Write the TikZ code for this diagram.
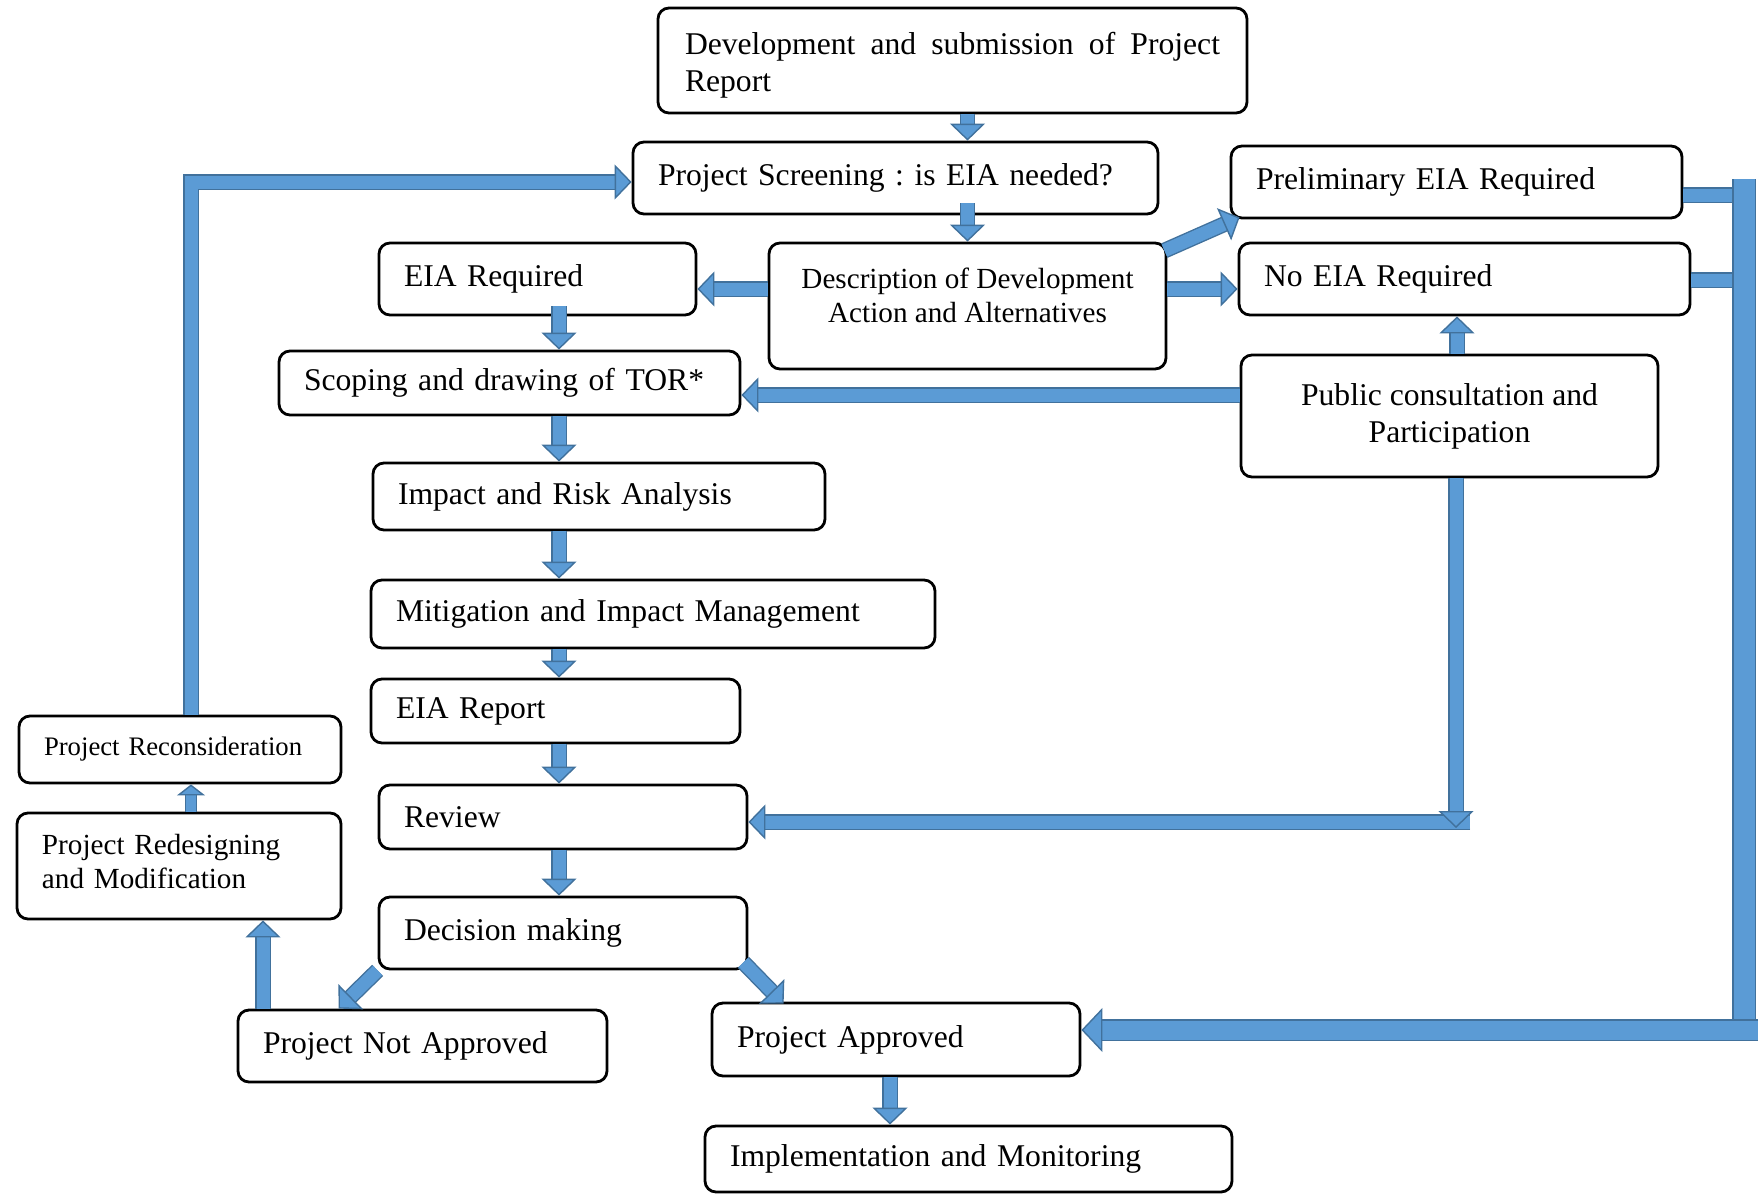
\documentclass[tikz,border=0pt]{standalone}
\usepackage{fontspec}
\setmainfont{Liberation Serif}
\usepackage{tikz}
\usetikzlibrary{arrows.meta,calc}
\frenchspacing

\definecolor{arrowfill}{HTML}{5B9BD5}
\definecolor{arrowline}{HTML}{41719C}
\newcommand{\stagefont}{\fontsize{9.0}{10.5}\selectfont}
\newcommand{\descfont}{\fontsize{8.3}{9.8}\selectfont}
\newcommand{\notefont}{\fontsize{7.6}{9.6}\selectfont}

\tikzset{
  stage/.style={draw, rounded corners=0.11cm, line width=0.8pt, inner xsep=0.25cm, inner ysep=0pt, align=left, font=\stagefont},
  flow/.style={draw=arrowline, line width=0.4pt, double=arrowfill, double distance=0.13cm,
    -{Triangle[width=0.35cm, length=0.17cm, fill=arrowfill, color=arrowline, line width=0.4pt]}},
  thinflow/.style={flow, double distance=0.1cm,
    -{Triangle[width=0.28cm, length=0.11cm, fill=arrowfill, color=arrowline, line width=0.4pt]}},
  wideflow/.style={flow, double distance=0.19cm,
    -{Triangle[width=0.44cm, length=0.21cm, fill=arrowfill, color=arrowline, line width=0.4pt]}},
  bar/.style={draw=arrowline, line width=0.4pt, double=arrowfill, double distance=0.13cm},
}

\begin{document}
\begin{tikzpicture}
    \useasboundingbox (0,0) rectangle (17.58,-11.95);
    % stages
    \node[stage, text width=5.35cm, inner xsep=0.27cm, minimum height=1.05cm, align=justify, text depth=9.5pt] (dev) at (9.525,-0.605) {Development and submission of Project Report};
    \node[stage, text width=4.75cm, minimum height=0.72cm] (screen) at (8.955,-1.78) {Project Screening : is EIA needed?};
    \node[stage, text width=4.01cm, minimum height=0.72cm] (prelim) at (14.565,-1.82) {Preliminary EIA Required};
    \node[stage, text width=4.01cm, minimum height=0.72cm] (noeia) at (14.645,-2.79) {No EIA Required};
    \node[stage, minimum width=3.97cm, minimum height=1.26cm, align=center, font=\descfont, text depth=0.21cm] (desc) at (9.675,-3.06) {Description of Development\\Action and Alternatives};
    \node[stage, text width=2.67cm, minimum height=0.72cm] (eiareq) at (5.375,-2.79) {EIA Required};
    \node[stage, text width=4.11cm, minimum height=0.64cm] (scoping) at (5.095,-3.83) {Scoping and drawing of TOR*};
    \node[stage, minimum width=4.17cm, minimum height=1.22cm, align=center] (public) at (14.495,-4.16) {Public consultation and\\Participation};
    \node[stage, text width=4.02cm, minimum height=0.67cm] (impact) at (5.99,-4.965) {Impact and Risk Analysis};
    \node[stage, text width=5.14cm, minimum height=0.68cm] (mitig) at (6.53,-6.14) {Mitigation and Impact Management};
    \node[stage, text width=3.19cm, minimum height=0.64cm] (eiarep) at (5.555,-7.11) {EIA Report};
    \node[stage, text width=3.18cm, minimum height=0.64cm] (review) at (5.63,-8.17) {Review};
    \node[stage, text width=3.18cm, minimum height=0.72cm] (decision) at (5.63,-9.33) {Decision making};
    \node[stage, text width=3.19cm, minimum height=0.72cm] (notappr) at (4.225,-10.46) {Project Not Approved};
    \node[stage, text width=3.18cm, minimum height=0.73cm] (appr) at (8.96,-10.395) {Project Approved};
    \node[stage, text width=4.77cm, minimum height=0.66cm] (impl) at (9.685,-11.59) {Implementation and Monitoring};
    \node[stage, text width=2.72cm, minimum height=0.67cm, font=\notefont] (reconsid) at (1.80,-7.495) {Project Reconsideration};
    \node[stage, text width=2.74cm, minimum height=1.06cm, font=\descfont, text depth=12.4pt] (redesign) at (1.79,-8.66) {Project Redesigning\\and Modification};

    % helper coordinates
    \coordinate (spine) at (5.59,0);
    \coordinate (fork) at (0,-2.89);
    \coordinate (tor) at (0,-3.95);
    \coordinate (rise) at (14.57,0);
    \coordinate (bend) at (14.56,-8.22);
    \coordinate (outlet) at (8.9,0);
    \coordinate (back) at (2.63,0);
    \coordinate (loop) at (1.91,-1.82);
    \coordinate (stubA) at (17.34,-1.95);
    \coordinate (stubB) at (17.34,-2.80);
    \coordinate (busTop) at (17.44,-1.79);
    \coordinate (busEnd) at (17.44,-10.40);
    \coordinate (edge) at (17.58,-10.30);

    % main line
    \draw[flow] (dev.south -| desc.north) -- (screen.north -| desc.north);
    \draw[flow] ($(screen.south -| desc.north)+(0,0.12)$) -- (desc.north);
    \draw[flow] (desc.west |- fork) -- (eiareq.east |- fork);
    \draw[flow] ($(desc.north east)+(-0.03,-0.09)$) -- ($(prelim.south west)+(0.1,0.02)$);
    \draw[flow] (desc.east |- fork) -- (noeia.west |- fork);
    \draw[flow] ($(eiareq.south -| spine)+(0,0.1)$) -- (scoping.north -| spine);
    \foreach \a/\b in {scoping/impact, impact/mitig, mitig/eiarep, eiarep/review, review/decision}
        \draw[flow] (\a.south -| spine) -- (\b.north -| spine);
    \draw[flow] (decision.south west) -- ($(notappr.north west)+(1.02,0)$);
    \draw[flow] ($(decision.south east)+(-0.05,0.08)$) -- ($(appr.north west)+(0.73,-0.02)$);
    \draw[flow] (appr.south -| outlet) -- (impl.north -| outlet);

    % rejection loop
    \draw[flow] (notappr.north -| back) -- (redesign.south -| back);
    \draw[thinflow] (redesign.north -| loop) -- (reconsid.south -| loop);
    \draw[flow] (reconsid.north -| loop) |- (screen.west |- loop);

    % public consultation
    \draw[flow] (public.west |- tor) -- (scoping.east |- tor);
    \draw[flow] (public.north -| rise) -- (noeia.south -| rise);
    \draw[flow] ($(bend)+(0.14,0)$) -- (review.east |- bend);
    \draw[flow] (public.south -| bend) -- ($(bend)+(0,-0.06)$);

    % bus to approval
    \draw[bar] (prelim.east |- stubA) -- (stubA);
    \draw[bar] (noeia.east |- stubB) -- (stubB);
    \draw[bar, double distance=0.21cm] (busTop) -- (busEnd);
    \draw[wideflow] (edge) -- (appr.east |- edge);
\end{tikzpicture}
\end{document}
